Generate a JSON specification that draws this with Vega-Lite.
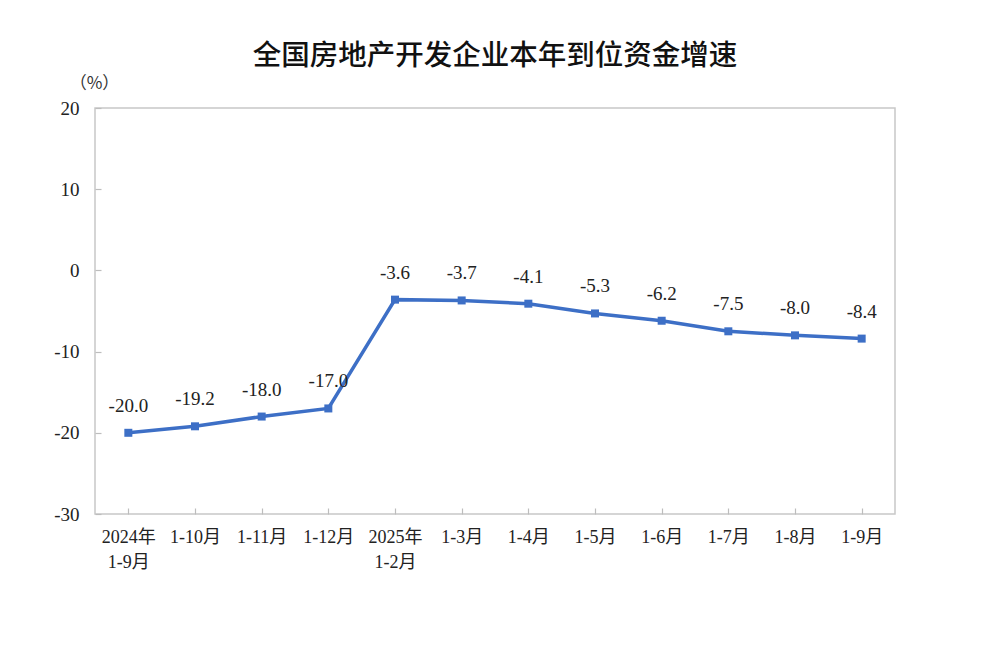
{
  "$schema": "https://vega.github.io/schema/vega-lite/v6.json",
  "autosize": "none",
  "padding": {"left": 95, "top": 108, "right": 91, "bottom": 132},
  "width": 800,
  "height": 406,
  "background": "white",
  "view": {"stroke": "#c8c8c8", "strokeWidth": 1.5},
  "config": {
    "locale": {
      "number": {"decimal": ".", "thousands": ",", "grouping": [3], "currency": ["", ""], "minus": "-"}
    }
  },
  "title": {
    "text": "全国房地产开发企业本年到位资金增速",
    "font": "Noto Sans CJK SC",
    "fontSize": 28.5,
    "fontWeight": 500,
    "color": "#111111",
    "anchor": "middle",
    "frame": "group",
    "offset": 4
  },
  "data": {
    "values": [
      {"period": "2024年|1-9月", "value": -20.0},
      {"period": "1-10月", "value": -19.2},
      {"period": "1-11月", "value": -18.0},
      {"period": "1-12月", "value": -17.0},
      {"period": "2025年|1-2月", "value": -3.6},
      {"period": "1-3月", "value": -3.7},
      {"period": "1-4月", "value": -4.1},
      {"period": "1-5月", "value": -5.3},
      {"period": "1-6月", "value": -6.2},
      {"period": "1-7月", "value": -7.5},
      {"period": "1-8月", "value": -8.0},
      {"period": "1-9月", "value": -8.4}
    ]
  },
  "encoding": {
    "x": {
      "field": "period",
      "type": "ordinal",
      "sort": null,
      "title": null,
      "scale": {"paddingInner": 0, "paddingOuter": 0},
      "axis": {
        "domain": false,
        "bandPosition": 0,
        "tickSize": -6,
        "tickColor": "#bdbdbd",
        "tickWidth": 1.2,
        "labelAngle": 0,
        "labelPadding": 20,
        "labelFont": "Liberation Serif, Noto Sans CJK SC",
        "labelFontSize": 18,
        "labelColor": "#222222",
        "labelLineHeight": 25,
        "labelExpr": "split(datum.label, '|')"
      }
    },
    "y": {
      "field": "value",
      "type": "quantitative",
      "scale": {"domain": [-30, 20], "nice": false},
      "axis": {
        "values": [-30, -20, -10, 0, 10, 20],
        "grid": false,
        "domain": false,
        "tickSize": -6,
        "tickColor": "#bdbdbd",
        "tickWidth": 1.2,
        "labelPadding": 22,
        "labelFont": "Liberation Serif",
        "labelFontSize": 19,
        "labelColor": "#222222",
        "title": "（%）",
        "titleFont": "Noto Sans CJK SC",
        "titleFontSize": 17,
        "titleFontWeight": "normal",
        "titleColor": "#333333",
        "titleAngle": 0,
        "titleAlign": "center",
        "titleBaseline": "middle",
        "titleX": -1,
        "titleY": -25
      }
    }
  },
  "layer": [
    {
      "mark": {"type": "line", "color": "#3d6fc6", "strokeWidth": 3.5, "point": {"shape": "square", "size": 64, "filled": true, "color": "#3d6fc6"}}
    },
    {
      "mark": {"type": "text", "dy": -27, "font": "Liberation Serif", "fontSize": 19, "color": "#222222"},
      "encoding": {"text": {"field": "value", "type": "quantitative", "format": ".1f"}}
    }
  ]
}
